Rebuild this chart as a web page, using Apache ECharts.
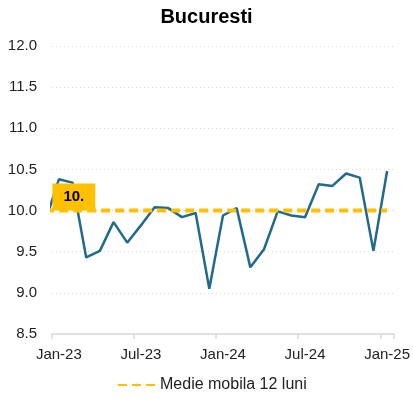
<!DOCTYPE html>
<html>
<head>
<meta charset="utf-8">
<script src="https://cdn.jsdelivr.net/npm/echarts@6/dist/echarts.min.js"></script>
<style>
  html, body { margin: 0; padding: 0; background: #fff; }
  #chart { width: 413px; height: 399px; }
</style>
</head>
<body>
<div id="chart"></div>
<script>
// Monthly categories shown on the x axis
const months = ['Jan-23','Feb-23','Mar-23','Apr-23','May-23','Jun-23','Jul-23','Aug-23','Sep-23','Oct-23','Nov-23','Dec-23',
                'Jan-24','Feb-24','Mar-24','Apr-24','May-24','Jun-24','Jul-24','Aug-24','Sep-24','Oct-24','Nov-24','Dec-24',
                'Jan-25'];
// Monthly values
const monthly = [10.38, 10.34, 9.43, 9.51, 9.86, 9.61, 9.82, 10.04, 10.03, 9.92, 9.97, 9.05,
                 9.94, 10.03, 9.31, 9.53, 9.99, 9.94, 9.92, 10.32, 10.30, 10.45, 10.40, 9.51,
                 10.48];
// Value for the month before the first category (line runs in from the left edge)
const previousMonth = 9.86;
// 12-month moving average (with the month before the first category)
const previousAvg = 10.0;
const movingAvg = [10.0, 10.0, 10.0, 10.0, 10.0, 10.0, 10.0, 10.0, 10.0, 10.0, 10.0, 10.0,
                   10.0, 10.0, 10.0, 10.0, 10.0, 10.0, 10.0, 10.0, 10.0, 10.0, 10.0, 10.0,
                   10.0];
const yTicks = { min: 8.5, max: 12.0, step: 0.5 };

const FONT = 'Liberation Sans, Arial, sans-serif';
const BLUE = '#21698D';
const GOLD = '#FFC000';

// Points placed at category centres on a hidden numeric axis
const monthlyPoints = [[-0.5, previousMonth]].concat(monthly.map((v, i) => [i + 0.5, v]));
const avgPoints = [[-0.5, previousAvg]].concat(movingAvg.map((v, i) => {
  if (i !== 0) return [i + 0.5, v];
  return {
    value: [i + 0.5, v],
    symbol: 'circle',
    symbolSize: 0,
    label: {
      show: true,
      position: 'top',
      distance: 0,
      offset: [15, 0],
      formatter: p => p.value[1].toFixed(0) + '.',
      backgroundColor: GOLD,
      padding: [6, 11, 6, 11],
      fontFamily: FONT,
      fontSize: 15,
      fontWeight: 'bold',
      color: '#000'
    }
  };
}));

const chart = echarts.init(document.getElementById('chart'), null, { renderer: 'canvas' });
chart.setOption({
  animation: false,
  title: {
    text: 'Bucuresti',
    left: 'center',
    top: 2,
    textStyle: { fontFamily: FONT, fontSize: 20, fontWeight: 'bold', color: '#000' }
  },
  grid: { left: 52, right: 17, top: 46, bottom: 65, containLabel: false },
  legend: {
    data: ['Medie mobila 12 luni'],
    bottom: 1,
    left: 112,
    itemWidth: 37,
    itemHeight: 4,
    itemGap: 6,
    textStyle: { fontFamily: FONT, fontSize: 16, color: '#222' }
  },
  xAxis: [{
    type: 'category',
    data: months,
    boundaryGap: true,
    axisLine: { lineStyle: { color: '#d9d9d9', width: 1.5 } },
    axisTick: { show: true, interval: 5, length: 5, lineStyle: { color: '#d9d9d9', width: 1.5 } },
    axisLabel: { interval: 5, margin: 13, fontFamily: FONT, fontSize: 15, color: '#222' },
    splitLine: { show: false }
  }, {
    type: 'value',
    min: 0,
    max: months.length,
    show: false
  }],
  yAxis: {
    type: 'value',
    min: yTicks.min,
    max: yTicks.max,
    interval: yTicks.step,
    axisLine: { show: false },
    axisTick: { show: false },
    axisLabel: {
      margin: 15,
      fontFamily: FONT, fontSize: 15, color: '#222',
      formatter: v => v.toFixed(1)
    },
    splitLine: { show: true, lineStyle: { color: '#d9d9d9', type: [1, 3], width: 1 } }
  },
  series: [{
    name: 'Bucuresti',
    type: 'line',
    xAxisIndex: 1,
    data: monthlyPoints,
    clip: true,
    symbol: 'none',
    lineStyle: { color: BLUE, width: 2.5 },
    itemStyle: { color: BLUE },
    z: 2
  }, {
    name: 'Medie mobila 12 luni',
    type: 'line',
    xAxisIndex: 1,
    data: avgPoints,
    clip: true,
    symbol: 'none',
    lineStyle: { color: GOLD, width: 4, type: [9, 5], cap: 'butt' },
    itemStyle: { color: GOLD },
    z: 3
  }]
});
</script>
</body>
</html>
